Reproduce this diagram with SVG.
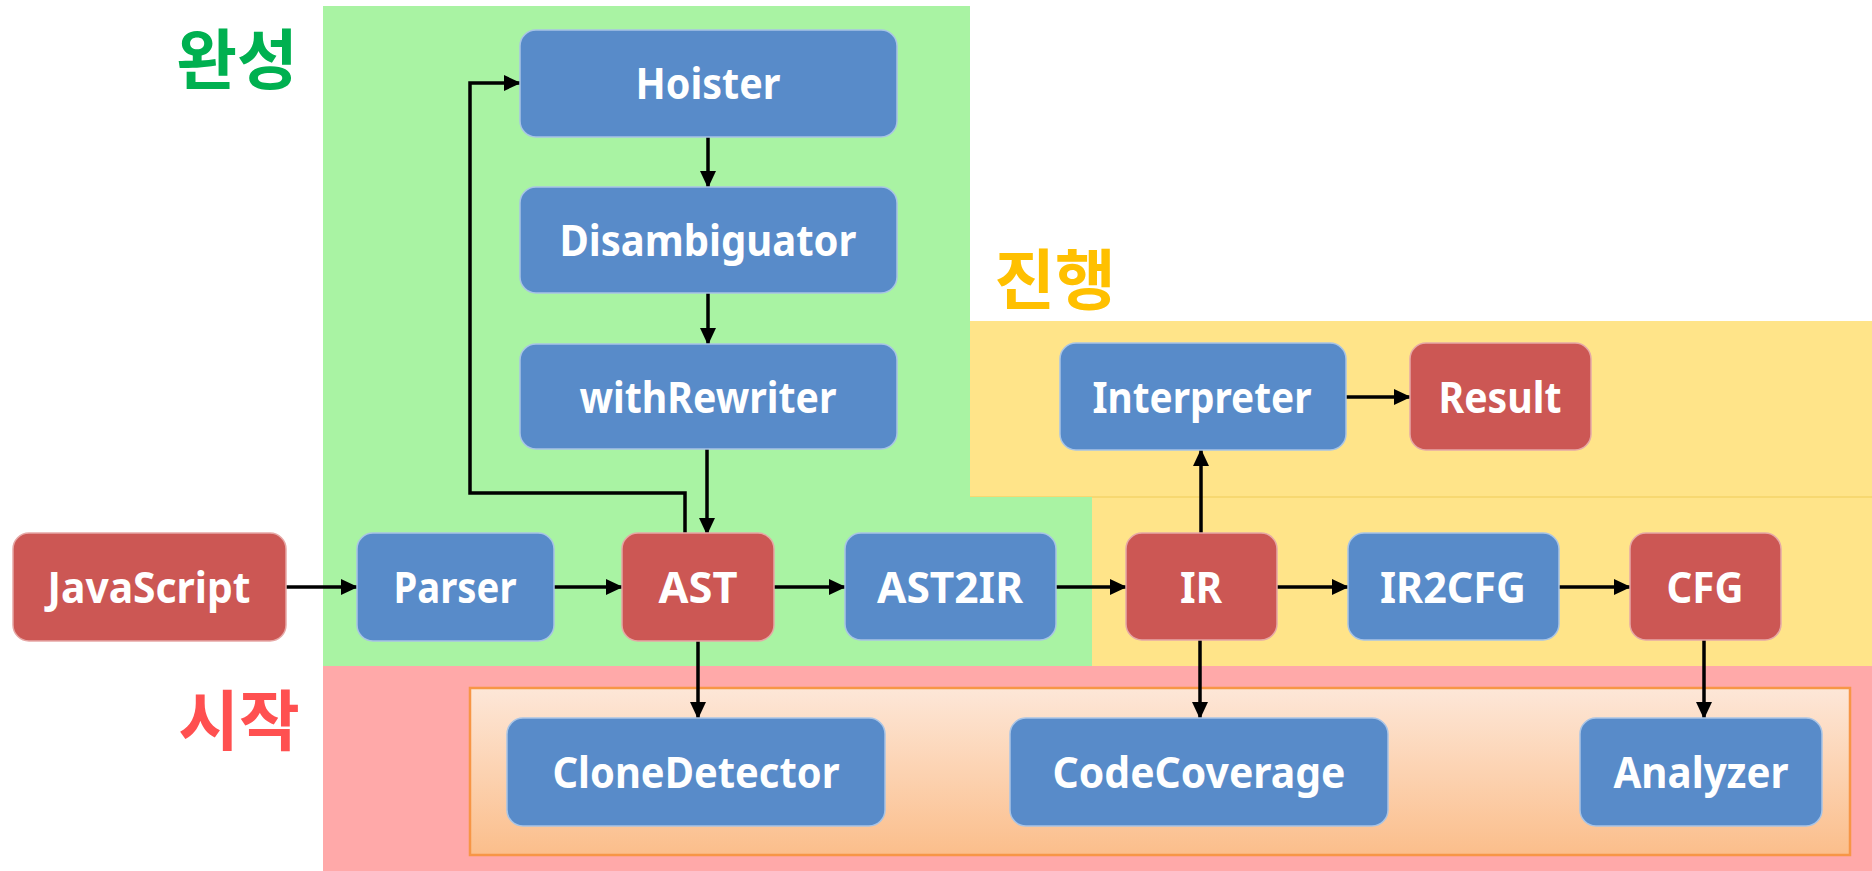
<svg xmlns="http://www.w3.org/2000/svg" width="1872" height="871" viewBox="0 0 1872 871">
<style>
.blue{fill:#588BC9;stroke:#A8C4E6;stroke-width:1.5}
.red{fill:#CC5754;stroke:#E6A8A6;stroke-width:1.5}
.lbl{font-family:"Noto Sans","Liberation Sans",sans-serif;font-weight:bold;font-size:43px;fill:#FFFFFF;text-anchor:middle}
.ko{font-family:"Noto Sans CJK KR",sans-serif;font-weight:bold;font-size:66px}
.con{stroke:#000;stroke-width:3.5;fill:none}
</style>
<defs>
<marker id="ah" markerUnits="userSpaceOnUse" markerWidth="17" markerHeight="16" refX="16" refY="8" orient="auto">
<path d="M0,0 L17,8 L0,16 Z" fill="#000"/>
</marker>
<linearGradient id="og" x1="0" y1="0" x2="0" y2="1">
<stop offset="0" stop-color="#FDE7D8"/>
<stop offset="1" stop-color="#FBBE8B"/>
</linearGradient>
</defs>
<rect width="1872" height="871" fill="#FFFFFF"/>
<g id="regions">
<rect x="970" y="321" width="902" height="176" fill="#FFE489"/>
<rect x="1092" y="497" width="780" height="169" fill="#FFE489"/>
<line x1="970" y1="497" x2="1872" y2="497" stroke="#F5D56A" stroke-width="1.5"/>
<path d="M323,6 H970 V497 H1092 V666 H323 Z" fill="#A9F3A3"/>
<rect x="323" y="666" width="1549" height="205" fill="#FFA9A9"/>
<rect x="470" y="688" width="1380" height="167" fill="url(#og)" stroke="#F79646" stroke-width="2.5"/>
</g>
<g id="titles">
<text class="ko" x="237" y="84" fill="#00B050" text-anchor="middle">완성</text>
<text class="ko" x="1055" y="304" fill="#FFC000" text-anchor="middle">진행</text>
<text class="ko" x="239" y="745" fill="#FF5050" text-anchor="middle">시작</text>
</g>
<g id="connectors">
<line class="con" x1="286" y1="587" x2="357" y2="587" marker-end="url(#ah)"/>
<line class="con" x1="554" y1="587" x2="622" y2="587" marker-end="url(#ah)"/>
<line class="con" x1="774" y1="587" x2="845" y2="587" marker-end="url(#ah)"/>
<line class="con" x1="1056" y1="587" x2="1126" y2="587" marker-end="url(#ah)"/>
<line class="con" x1="1277" y1="587" x2="1348" y2="587" marker-end="url(#ah)"/>
<line class="con" x1="1559" y1="587" x2="1630" y2="587" marker-end="url(#ah)"/>
<line class="con" x1="1346" y1="397" x2="1410" y2="397" marker-end="url(#ah)"/>
<line class="con" x1="1201" y1="533" x2="1201" y2="450" marker-end="url(#ah)"/>
<line class="con" x1="708" y1="137" x2="708" y2="187" marker-end="url(#ah)"/>
<line class="con" x1="708" y1="293" x2="708" y2="344" marker-end="url(#ah)"/>
<line class="con" x1="707" y1="449" x2="707" y2="534" marker-end="url(#ah)"/>
<path class="con" d="M685,534 V493 H470 V83 H520" marker-end="url(#ah)"/>
<line class="con" x1="698" y1="641" x2="698" y2="718" marker-end="url(#ah)"/>
<line class="con" x1="1200" y1="640" x2="1200" y2="718" marker-end="url(#ah)"/>
<line class="con" x1="1704" y1="640" x2="1704" y2="718" marker-end="url(#ah)"/>
</g>
<g id="n-hoister"><rect class="blue" x="520" y="30" width="377" height="107" rx="16"/><text class="lbl" x="708" y="99" textLength="145" lengthAdjust="spacingAndGlyphs">Hoister</text></g>
<g id="n-disambiguator"><rect class="blue" x="520" y="187" width="377" height="106" rx="16"/><text class="lbl" x="708" y="256" textLength="297" lengthAdjust="spacingAndGlyphs">Disambiguator</text></g>
<g id="n-withrewriter"><rect class="blue" x="520" y="344" width="377" height="105" rx="16"/><text class="lbl" x="708" y="413" textLength="257" lengthAdjust="spacingAndGlyphs">withRewriter</text></g>
<g id="n-javascript"><rect class="red" x="13" y="533" width="273" height="108" rx="16"/><text class="lbl" x="149" y="603" textLength="203" lengthAdjust="spacingAndGlyphs">JavaScript</text></g>
<g id="n-parser"><rect class="blue" x="357" y="533" width="197" height="108" rx="16"/><text class="lbl" x="455" y="603" textLength="123" lengthAdjust="spacingAndGlyphs">Parser</text></g>
<g id="n-ast"><rect class="red" x="622" y="533" width="152" height="108" rx="16"/><text class="lbl" x="698" y="603" textLength="79" lengthAdjust="spacingAndGlyphs">AST</text></g>
<g id="n-ast2ir"><rect class="blue" x="845" y="533" width="211" height="107" rx="16"/><text class="lbl" x="950" y="603" textLength="146" lengthAdjust="spacingAndGlyphs">AST2IR</text></g>
<g id="n-ir"><rect class="red" x="1126" y="533" width="151" height="107" rx="16"/><text class="lbl" x="1201" y="603" textLength="42" lengthAdjust="spacingAndGlyphs">IR</text></g>
<g id="n-ir2cfg"><rect class="blue" x="1348" y="533" width="211" height="107" rx="16"/><text class="lbl" x="1453" y="603" textLength="146" lengthAdjust="spacingAndGlyphs">IR2CFG</text></g>
<g id="n-cfg"><rect class="red" x="1630" y="533" width="151" height="107" rx="16"/><text class="lbl" x="1705" y="603" textLength="77" lengthAdjust="spacingAndGlyphs">CFG</text></g>
<g id="n-interpreter"><rect class="blue" x="1060" y="343" width="286" height="107" rx="16"/><text class="lbl" x="1202" y="413" textLength="219" lengthAdjust="spacingAndGlyphs">Interpreter</text></g>
<g id="n-result"><rect class="red" x="1410" y="343" width="181" height="107" rx="16"/><text class="lbl" x="1500" y="413" textLength="123" lengthAdjust="spacingAndGlyphs">Result</text></g>
<g id="n-clonedetector"><rect class="blue" x="507" y="718" width="378" height="108" rx="16"/><text class="lbl" x="696" y="788" textLength="287" lengthAdjust="spacingAndGlyphs">CloneDetector</text></g>
<g id="n-codecoverage"><rect class="blue" x="1010" y="718" width="378" height="108" rx="16"/><text class="lbl" x="1199" y="788" textLength="293" lengthAdjust="spacingAndGlyphs">CodeCoverage</text></g>
<g id="n-analyzer"><rect class="blue" x="1580" y="718" width="242" height="108" rx="16"/><text class="lbl" x="1701" y="788" textLength="175" lengthAdjust="spacingAndGlyphs">Analyzer</text></g>
</svg>
